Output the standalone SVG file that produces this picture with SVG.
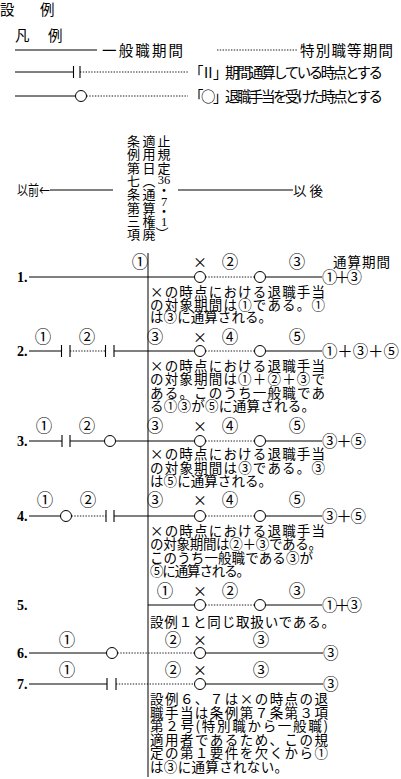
<svg xmlns="http://www.w3.org/2000/svg" width="401" height="779" viewBox="0 0 401 779">
<style>
.s{stroke:#000;stroke-width:1;fill:none}
.d{stroke:#000;stroke-width:0.9;stroke-dasharray:1.4 1.4;fill:none}
.c{stroke:#000;stroke-width:1;fill:#fff}
.b{stroke:#000;stroke-width:1.1}
text{font-family:"Noto Sans CJK JP","Liberation Serif",sans-serif;fill:#000}
.t{font-size:13.5px}
.l{font-size:14.5px}
.n{font-size:16.5px;text-anchor:middle}
.x{font-size:14px;text-anchor:middle}
.q{font-size:15.5px}
.v{font-size:13px;text-anchor:middle}
.dg{font-family:"Liberation Serif",serif;font-size:12.5px;text-anchor:middle}
.r{font-family:"Liberation Serif",serif;font-size:14px;font-weight:bold}
</style>
<rect width="401" height="779" fill="#fff"/>
<g id="header">
<text class="l" x="0" y="14.5">設</text>
<text class="l" x="40" y="14.5">例</text>
<text class="l" x="15" y="41">凡</text>
<text class="l" x="48" y="41">例</text>
</g>
<g id="legend">
<line class="s" x1="15" y1="50" x2="97" y2="50"/>
<text class="l" x="102" y="55.5" textLength="81" lengthAdjust="spacing">一般職期間</text>
<line class="d" x1="217" y1="50" x2="297" y2="50"/>
<text class="l" x="300" y="55.5" textLength="93" lengthAdjust="spacing">特別職等期間</text>
<line class="s" x1="15" y1="72" x2="73.5" y2="72"/>
<line class="b" x1="73.5" y1="66" x2="73.5" y2="78"/>
<line class="b" x1="80" y1="66" x2="80" y2="78"/>
<line class="d" x1="80" y1="72" x2="188" y2="72"/>
<text class="l" x="189" y="77.5" textLength="194" lengthAdjust="spacing">「Ⅱ」期間通算している時点とする</text>
<line class="s" x1="15" y1="96" x2="75.5" y2="96"/>
<circle class="c" cx="81" cy="96" r="5.5"/>
<line class="d" x1="86.5" y1="96" x2="188" y2="96"/>
<text class="l" x="189" y="101.5" textLength="194" lengthAdjust="spacing">「○」退職手当を受けた時点とする</text>
</g>
<g id="axis">
<text class="t" x="17" y="195" textLength="33" lengthAdjust="spacingAndGlyphs">以前←</text>
<line class="s" x1="50" y1="190" x2="113" y2="190"/>
<line class="s" x1="178" y1="190" x2="293" y2="190"/>
<text class="t" x="293" y="195.5" textLength="30" lengthAdjust="spacing">以後</text>
<g id="effective-date">
<text class="v" x="133.5" y="146">条</text>
<text class="v" x="133.5" y="159.3">例</text>
<text class="v" x="133.5" y="172.6">第</text>
<text class="v" x="133.5" y="185.9">七</text>
<text class="v" x="133.5" y="199.2">条</text>
<text class="v" x="133.5" y="212.5">第</text>
<text class="v" x="133.5" y="225.8">三</text>
<text class="v" x="133.5" y="239.1">項</text>
<text class="v" x="149" y="146">適</text>
<text class="v" x="149" y="159.3">用</text>
<text class="v" x="149" y="172.6">日</text>
<text class="v" x="149" y="185.9">︵</text>
<text class="v" x="149" y="199.2">通</text>
<text class="v" x="149" y="212.5">算</text>
<text class="v" x="149" y="225.8">権</text>
<text class="v" x="149" y="239.1">廃</text>
<text class="v" x="164" y="146">止</text>
<text class="v" x="164" y="159.3">規</text>
<text class="v" x="164" y="172.6">定</text>
<text class="dg" x="164" y="183.5">36</text>
<text class="v" x="164" y="195">・</text>
<text class="dg" x="164" y="206">7</text>
<text class="v" x="164" y="216">・</text>
<text class="dg" x="164" y="226">1</text>
<text class="v" x="162" y="238">︶</text>
</g>
</g>
<g id="connectors">
<line class="s" x1="148" y1="253" x2="148" y2="777"/>
<line class="s" x1="29" y1="277" x2="194.5" y2="277"/>
<line class="d" x1="205.5" y1="277" x2="254.5" y2="277"/>
<line class="s" x1="265.5" y1="277" x2="322" y2="277"/>
<line class="s" x1="29" y1="351" x2="61" y2="351"/>
<line class="d" x1="70" y1="351" x2="105" y2="351"/>
<line class="s" x1="114" y1="351" x2="194.5" y2="351"/>
<line class="d" x1="205.5" y1="351" x2="254.5" y2="351"/>
<line class="s" x1="265.5" y1="351" x2="322" y2="351"/>
<line class="s" x1="29" y1="441" x2="62" y2="441"/>
<line class="s" x1="70" y1="441" x2="104.5" y2="441"/>
<line class="s" x1="115.5" y1="441" x2="194.5" y2="441"/>
<line class="d" x1="205.5" y1="441" x2="254.5" y2="441"/>
<line class="s" x1="265.5" y1="441" x2="322" y2="441"/>
<line class="s" x1="29" y1="516" x2="60.5" y2="516"/>
<line class="d" x1="71.5" y1="516" x2="106" y2="516"/>
<line class="s" x1="114" y1="516" x2="194.5" y2="516"/>
<line class="d" x1="205.5" y1="516" x2="254.5" y2="516"/>
<line class="s" x1="265.5" y1="516" x2="322" y2="516"/>
<line class="s" x1="148" y1="605" x2="194.5" y2="605"/>
<line class="d" x1="205.5" y1="605" x2="254.5" y2="605"/>
<line class="s" x1="265.5" y1="605" x2="322" y2="605"/>
<line class="s" x1="29" y1="653" x2="106.5" y2="653"/>
<line class="d" x1="117.5" y1="653" x2="194.5" y2="653"/>
<line class="s" x1="205.5" y1="653" x2="323" y2="653"/>
<line class="s" x1="29" y1="684" x2="107" y2="684"/>
<line class="d" x1="116" y1="684" x2="194.5" y2="684"/>
<line class="s" x1="205.5" y1="684" x2="323" y2="684"/>
</g>
<g id="case1">
<text class="r" x="17" y="282">1.</text>
<text class="n" x="140" y="268">①</text>
<text class="x" x="200" y="267">×</text>
<text class="n" x="230" y="268">②</text>
<text class="n" x="297" y="268">③</text>
<text class="t" x="333" y="267" textLength="57" lengthAdjust="spacing">通算期間</text>
<circle class="c" cx="200" cy="277" r="5.5"/>
<circle class="c" cx="260" cy="277" r="5.5"/>
<text class="q" x="322" y="283" textLength="40" lengthAdjust="spacing">①＋③</text>
<text class="t" x="150" y="297" textLength="175" lengthAdjust="spacing">×の時点における退職手当</text>
<text class="t" x="150" y="309.5" textLength="175" lengthAdjust="spacing">の対象期間は①である。①</text>
<text class="t" x="150" y="322" textLength="122" lengthAdjust="spacing">は③に通算される。</text>
</g>
<g id="case2">
<text class="r" x="17" y="356">2.</text>
<text class="n" x="43" y="343">①</text>
<text class="n" x="87" y="343">②</text>
<text class="n" x="155" y="343">③</text>
<text class="x" x="200" y="342">×</text>
<text class="n" x="230" y="343">④</text>
<text class="n" x="297" y="343">⑤</text>
<line class="b" x1="61.5" y1="345" x2="61.5" y2="357"/>
<line class="b" x1="70" y1="345" x2="70" y2="357"/>
<line class="b" x1="105.5" y1="345" x2="105.5" y2="357"/>
<line class="b" x1="114" y1="345" x2="114" y2="357"/>
<circle class="c" cx="200" cy="351" r="5.5"/>
<circle class="c" cx="260" cy="351" r="5.5"/>
<text class="q" x="322" y="357" textLength="77" lengthAdjust="spacing">①＋③＋⑤</text>
<text class="t" x="150" y="371" textLength="175" lengthAdjust="spacing">×の時点における退職手当</text>
<text class="t" x="150" y="384" textLength="175" lengthAdjust="spacing">の対象期間は①＋②＋③で</text>
<text class="t" x="150" y="397.5" textLength="175" lengthAdjust="spacing">ある。このうち一般職であ</text>
<text class="t" x="150" y="411" textLength="165" lengthAdjust="spacing">る①③が⑤に通算される。</text>
</g>
<g id="case3">
<text class="r" x="17" y="446">3.</text>
<text class="n" x="44" y="432">①</text>
<text class="n" x="87" y="432">②</text>
<text class="n" x="155" y="432">③</text>
<text class="x" x="200" y="431">×</text>
<text class="n" x="230" y="432">④</text>
<text class="n" x="297" y="432">⑤</text>
<line class="b" x1="62" y1="435" x2="62" y2="447"/>
<line class="b" x1="70" y1="435" x2="70" y2="447"/>
<circle class="c" cx="110" cy="441" r="5.5"/>
<circle class="c" cx="200" cy="441" r="5.5"/>
<circle class="c" cx="260" cy="441" r="5.5"/>
<text class="q" x="322" y="447" textLength="44" lengthAdjust="spacing">③＋⑤</text>
<text class="t" x="150" y="459" textLength="175" lengthAdjust="spacing">×の時点における退職手当</text>
<text class="t" x="150" y="472.5" textLength="175" lengthAdjust="spacing">の対象期間は③である。③</text>
<text class="t" x="150" y="486" textLength="122" lengthAdjust="spacing">は⑤に通算される。</text>
</g>
<g id="case4">
<text class="r" x="17" y="521">4.</text>
<text class="n" x="45" y="506">①</text>
<text class="n" x="88" y="506">②</text>
<text class="n" x="155" y="506">③</text>
<text class="x" x="200" y="505">×</text>
<text class="n" x="230" y="506">④</text>
<text class="n" x="297" y="506">⑤</text>
<circle class="c" cx="66" cy="516" r="5.5"/>
<line class="b" x1="106" y1="510" x2="106" y2="522"/>
<line class="b" x1="114" y1="510" x2="114" y2="522"/>
<circle class="c" cx="200" cy="516" r="5.5"/>
<circle class="c" cx="260" cy="516" r="5.5"/>
<text class="q" x="322" y="522" textLength="44" lengthAdjust="spacing">③＋⑤</text>
<text class="t" x="150" y="536" textLength="175" lengthAdjust="spacing">×の時点における退職手当</text>
<text class="t" x="150" y="549" textLength="172" lengthAdjust="spacing">の対象期間は②＋③である。</text>
<text class="t" x="150" y="562.5" textLength="163" lengthAdjust="spacing">このうち一般職である③が</text>
<text class="t" x="150" y="576" textLength="100" lengthAdjust="spacing">⑤に通算される。</text>
</g>
<g id="case5">
<text class="r" x="17" y="610">5.</text>
<text class="n" x="165" y="597">①</text>
<text class="x" x="200" y="596">×</text>
<text class="n" x="230" y="597">②</text>
<text class="n" x="297" y="597">③</text>
<circle class="c" cx="200" cy="605" r="5.5"/>
<circle class="c" cx="260" cy="605" r="5.5"/>
<text class="q" x="322" y="611" textLength="40" lengthAdjust="spacing">①＋③</text>
<text class="t" x="150" y="627" textLength="185" lengthAdjust="spacing">設例１と同じ取扱いである。</text>
</g>
<g id="case6">
<text class="r" x="17" y="658">6.</text>
<text class="n" x="67" y="646">①</text>
<text class="n" x="173" y="646">②</text>
<text class="x" x="200" y="645">×</text>
<text class="n" x="261" y="646">③</text>
<circle class="c" cx="112" cy="653" r="5.5"/>
<circle class="c" cx="200" cy="653" r="5.5"/>
<text class="q" x="323" y="659">③</text>
</g>
<g id="case7">
<text class="r" x="17" y="689">7.</text>
<text class="n" x="67" y="676">①</text>
<text class="n" x="173" y="676">②</text>
<text class="x" x="200" y="675">×</text>
<text class="n" x="261" y="676">③</text>
<line class="b" x1="107" y1="678" x2="107" y2="690"/>
<line class="b" x1="116" y1="678" x2="116" y2="690"/>
<circle class="c" cx="200" cy="684" r="5.5"/>
<text class="q" x="323" y="690">③</text>
<text class="t" x="150" y="704" textLength="178" lengthAdjust="spacing">設例６、７は×の時点の退</text>
<text class="t" x="150" y="717.5" textLength="178" lengthAdjust="spacing">職手当は条例第７条第３項</text>
<text class="t" x="150" y="731" textLength="178" lengthAdjust="spacing">第２号(特別職から一般職)</text>
<text class="t" x="150" y="744.5" textLength="178" lengthAdjust="spacing">適用者であるため、この規</text>
<text class="t" x="150" y="758" textLength="178" lengthAdjust="spacing">定の第１要件を欠くから①</text>
<text class="t" x="150" y="771.5" textLength="138" lengthAdjust="spacing">は③に通算されない。</text>
</g>
</svg>
